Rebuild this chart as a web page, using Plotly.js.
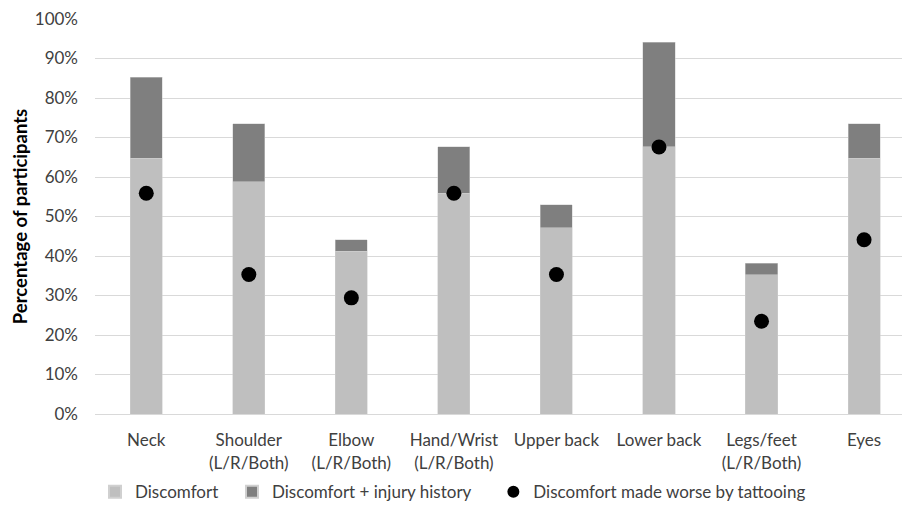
<!DOCTYPE html>
<html><head><meta charset="utf-8">
<script src="https://cdn.plot.ly/plotly-3.0.1.min.js"></script>
<style>body{margin:0;background:#fff}#c{width:902px;height:517px}</style>
</head><body><div id="c"></div>
<script>
const categories = ["Neck","Shoulder<br>(L/R/Both)","Elbow<br>(L/R/Both)","Hand/Wrist<br>(L/R/Both)","Upper back","Lower back","Legs/feet<br>(L/R/Both)","Eyes"];
const discomfort = [64.7, 58.8, 41.2, 55.9, 47.1, 67.6, 35.3, 64.7];
const injuryHistoryExtra = [20.6, 14.7, 2.9, 11.8, 5.9, 26.5, 2.9, 8.8];
const worseByTattooing = [55.9, 35.3, 29.4, 55.9, 35.3, 67.6, 23.5, 44.1];
const seriesNames = ["Discomfort", "Discomfort + injury history", "Discomfort made worse by tattooing"];
const yTickVals = [0,10,20,30,40,50,60,70,80,90,100];
const yTickText = ["0%","10%","20%","30%","40%","50%","60%","70%","80%","90%","100%"];

const fam = "Lato, 'Open Sans', sans-serif";
const font = {family: fam, size: 17, color: "#404040"};
const pad = n => "\u00a0".repeat(n);
const traces = [
  {type: "bar", name: seriesNames[0] + pad(2), x: categories, y: discomfort,
   marker: {color: "#bfbfbf", line: {color: "#d0d0d0", width: 0.5}}},
  {type: "bar", name: seriesNames[1] + pad(4), x: categories, y: injuryHistoryExtra,
   marker: {color: "#7f7f7f", line: {color: "#d0d0d0", width: 0.5}}},
  {type: "scatter", mode: "markers", name: seriesNames[2], x: categories, y: worseByTattooing,
   marker: {color: "#000", size: 15}}
];
const layout = {
  width: 902, height: 517,
  margin: {l: 95, r: 0, t: 19, b: 103, autoexpand: false},
  barmode: "stack", bargap: 0.687,
  paper_bgcolor: "#fff", plot_bgcolor: "#fff",
  font: font,
  showlegend: true,
  legend: {orientation: "h", x: 0, xanchor: "left", yref: "container", y: 0.048, yanchor: "middle",
           bgcolor: "rgba(0,0,0,0)", font: font, traceorder: "normal", itemwidth: 30, itemsizing: "constant"},
  xaxis: {type: "category", range: [-0.5, 7.37], showgrid: false, zeroline: false,
          showline: true, linecolor: "#d9d9d9", linewidth: 1, ticks: "", tickfont: font,
          ticklabelstandoff: 11, fixedrange: true},
  yaxis: {range: [0, 100], tickvals: yTickVals, ticktext: yTickText, showgrid: true,
          gridcolor: "#d9d9d9", gridwidth: 1, zeroline: false, showline: false, ticks: "",
          ticklabelstandoff: 16, tickfont: font,
          title: {text: "<b>Percentage of participants</b>", font: {family: fam, size: 18.5, color: "#000"}, standoff: 2}}
};
Plotly.newPlot("c", traces, layout, {displayModeBar: false, staticPlot: true});
</script>
</body></html>
